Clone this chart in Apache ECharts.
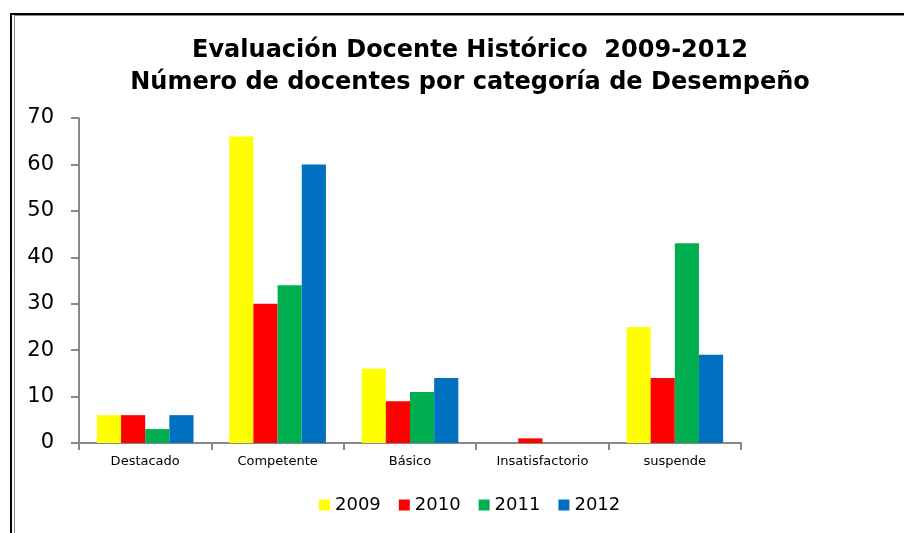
<!DOCTYPE html>
<html><head><meta charset="utf-8">
<script src="https://cdn.jsdelivr.net/npm/echarts@6/dist/echarts.min.js"></script>
<style>html,body{margin:0;padding:0;background:#fff}#c{width:904px;height:533px}</style>
</head><body><div id="c"></div>
<script>
const categories = ['Destacado','Competente','Básico','Insatisfactorio','suspende'];
const seriesNames = ['2009','2010','2011','2012'];
const v2009 = [6,66,16,0,25];
const v2010 = [6,30,9,1,14];
const v2011 = [3,34,11,0,43];
const v2012 = [6,60,14,0,19];
const yTicks = [0,10,20,30,40,50,60,70];
const colors = ['#FFFF00','#FF0000','#00B050','#0070C0'];
const values = [v2009,v2010,v2011,v2012];

const chart = echarts.init(document.getElementById('c'));
const F = 'DejaVu Sans, Verdana, sans-serif';
chart.setOption({
  animation:false,
  textStyle:{fontFamily:F},
  title:{
    text:'Evaluación Docente Histórico  2009-2012\nNúmero de docentes por categoría de Desempeño',
    left:465, top:30, textAlign:'center',
    textStyle:{fontFamily:F,fontWeight:'bold',fontSize:24,color:'#000',lineHeight:32}
  },
  graphic:[
    {type:'rect',shape:{x:11,y:14,width:1000,height:1000},style:{fill:'none',stroke:'#000',lineWidth:2},silent:true},
    {type:'line',shape:{x1:14.5,y1:16,x2:14.5,y2:533},style:{stroke:'#888',lineWidth:1},silent:true},
    {type:'line',shape:{x1:14,y1:15.5,x2:904,y2:15.5},style:{stroke:'#888',lineWidth:1},silent:true}
  ],
  legend:{
    data:seriesNames, top:491, left:314,
    itemWidth:11, itemHeight:11, itemGap:18, icon:'rect',
    textStyle:{fontFamily:F,fontSize:18,color:'#000'}
  },
  grid:{left:79,right:163,top:118,bottom:90,containLabel:false},
  xAxis:{
    type:'category', data:categories,
    axisLine:{lineStyle:{color:'#888',width:2}},
    axisTick:{show:true,length:7,lineStyle:{color:'#888',width:2}},
    axisLabel:{fontFamily:F,fontSize:13,color:'#000',margin:12}
  },
  yAxis:{
    type:'value', min:0, max:70, interval:10,
    axisLine:{show:true,lineStyle:{color:'#888',width:2}},
    axisTick:{show:true,length:8,lineStyle:{color:'#888',width:2}},
    splitLine:{show:false},
    axisLabel:{fontFamily:F,fontSize:21,color:'#000',margin:25,
      formatter:v=>yTicks.includes(v)?String(v):''}
  },
  series: seriesNames.map((n,i)=>({
    name:n, type:'bar', data:values[i], barGap:'0%', barCategoryGap:'27%',
    itemStyle:{color:colors[i]}
  }))
});
</script></body></html>
